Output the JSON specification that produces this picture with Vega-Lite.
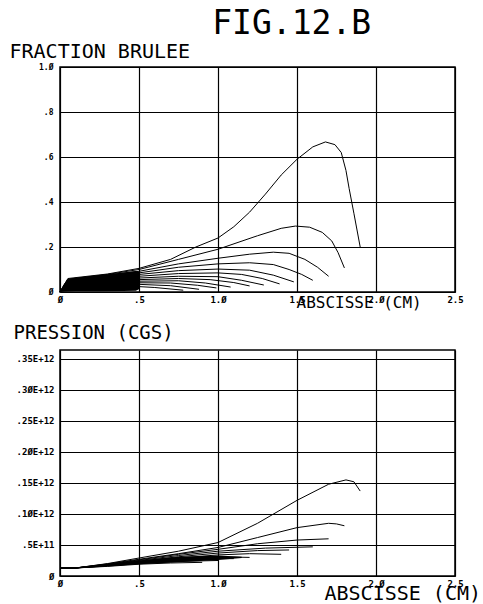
{
  "$schema": "https://vega.github.io/schema/vega-lite/v6.json",
  "background": "white",
  "padding": {"left": 8, "top": 8, "right": 0, "bottom": 0},
  "title": {"text": "FIG.12.B", "font": "DejaVu Sans Mono", "fontSize": 33, "fontWeight": "normal", "color": "black", "anchor": "start", "frame": "bounds", "dx": 204, "offset": -1},
  "spacing": 58,
  "bounds": "flush",
  "config": {
    "view": {"stroke": "black", "strokeWidth": 1.5},
    "axis": {"domain": false, "ticks": false, "grid": true, "gridColor": "black", "gridOpacity": 1, "gridWidth": 1.2, "labelFont": "DejaVu Sans Mono", "labelColor": "black", "labelFontWeight": "bold", "titleFont": "DejaVu Sans Mono", "titleFontWeight": "normal", "titleColor": "black", "labelFlush": false, "labelOverlap": false}
  },
  "datasets": {
    "fraction": [
      {"courbe": "C1", "x": 0, "y": 0}, {"courbe": "C1", "x": 0.05, "y": 0.06}, {"courbe": "C1", "x": 0.3, "y": 0.08}, {"courbe": "C1", "x": 0.5, "y": 0.105}, {"courbe": "C1", "x": 0.7, "y": 0.145}, {"courbe": "C1", "x": 0.86, "y": 0.2}, {"courbe": "C1", "x": 1.0, "y": 0.24}, {"courbe": "C1", "x": 1.1, "y": 0.29}, {"courbe": "C1", "x": 1.2, "y": 0.355}, {"courbe": "C1", "x": 1.3, "y": 0.435}, {"courbe": "C1", "x": 1.4, "y": 0.52}, {"courbe": "C1", "x": 1.5, "y": 0.59}, {"courbe": "C1", "x": 1.6, "y": 0.645}, {"courbe": "C1", "x": 1.68, "y": 0.667}, {"courbe": "C1", "x": 1.74, "y": 0.655}, {"courbe": "C1", "x": 1.78, "y": 0.62}, {"courbe": "C1", "x": 1.81, "y": 0.54}, {"courbe": "C1", "x": 1.83, "y": 0.46}, {"courbe": "C1", "x": 1.86, "y": 0.35}, {"courbe": "C1", "x": 1.9, "y": 0.2},
      {"courbe": "C2", "x": 0, "y": 0}, {"courbe": "C2", "x": 0.05, "y": 0.057}, {"courbe": "C2", "x": 0.3, "y": 0.078}, {"courbe": "C2", "x": 0.5, "y": 0.1}, {"courbe": "C2", "x": 0.75, "y": 0.145}, {"courbe": "C2", "x": 1.0, "y": 0.19}, {"courbe": "C2", "x": 1.25, "y": 0.25}, {"courbe": "C2", "x": 1.4, "y": 0.283}, {"courbe": "C2", "x": 1.49, "y": 0.293}, {"courbe": "C2", "x": 1.58, "y": 0.288}, {"courbe": "C2", "x": 1.66, "y": 0.265}, {"courbe": "C2", "x": 1.72, "y": 0.227}, {"courbe": "C2", "x": 1.76, "y": 0.175}, {"courbe": "C2", "x": 1.8, "y": 0.107},
      {"courbe": "C3", "x": 0, "y": 0}, {"courbe": "C3", "x": 0.05, "y": 0.055}, {"courbe": "C3", "x": 0.5, "y": 0.092}, {"courbe": "C3", "x": 0.75, "y": 0.125}, {"courbe": "C3", "x": 1.0, "y": 0.15}, {"courbe": "C3", "x": 1.2, "y": 0.168}, {"courbe": "C3", "x": 1.35, "y": 0.177}, {"courbe": "C3", "x": 1.45, "y": 0.172}, {"courbe": "C3", "x": 1.55, "y": 0.145}, {"courbe": "C3", "x": 1.63, "y": 0.11}, {"courbe": "C3", "x": 1.7, "y": 0.07},
      {"courbe": "C4", "x": 0, "y": 0}, {"courbe": "C4", "x": 0.05, "y": 0.053}, {"courbe": "C4", "x": 0.5, "y": 0.085}, {"courbe": "C4", "x": 0.75, "y": 0.11}, {"courbe": "C4", "x": 1.0, "y": 0.125}, {"courbe": "C4", "x": 1.2, "y": 0.13}, {"courbe": "C4", "x": 1.35, "y": 0.122}, {"courbe": "C4", "x": 1.45, "y": 0.1}, {"courbe": "C4", "x": 1.53, "y": 0.078}, {"courbe": "C4", "x": 1.6, "y": 0.052},
      {"courbe": "C5", "x": 0, "y": 0}, {"courbe": "C5", "x": 0.05, "y": 0.05}, {"courbe": "C5", "x": 0.5, "y": 0.078}, {"courbe": "C5", "x": 0.75, "y": 0.095}, {"courbe": "C5", "x": 1.0, "y": 0.102}, {"courbe": "C5", "x": 1.2, "y": 0.097}, {"courbe": "C5", "x": 1.35, "y": 0.075}, {"courbe": "C5", "x": 1.48, "y": 0.045},
      {"courbe": "C6", "x": 0, "y": 0}, {"courbe": "C6", "x": 0.05, "y": 0.048}, {"courbe": "C6", "x": 0.5, "y": 0.07}, {"courbe": "C6", "x": 0.75, "y": 0.082}, {"courbe": "C6", "x": 1.0, "y": 0.085}, {"courbe": "C6", "x": 1.15, "y": 0.078}, {"courbe": "C6", "x": 1.28, "y": 0.06}, {"courbe": "C6", "x": 1.39, "y": 0.036},
      {"courbe": "C7", "x": 0, "y": 0}, {"courbe": "C7", "x": 0.05, "y": 0.046}, {"courbe": "C7", "x": 0.5, "y": 0.062}, {"courbe": "C7", "x": 0.75, "y": 0.07}, {"courbe": "C7", "x": 1.0, "y": 0.068}, {"courbe": "C7", "x": 1.15, "y": 0.052}, {"courbe": "C7", "x": 1.29, "y": 0.031},
      {"courbe": "C8", "x": 0, "y": 0}, {"courbe": "C8", "x": 0.05, "y": 0.044}, {"courbe": "C8", "x": 0.5, "y": 0.055}, {"courbe": "C8", "x": 0.75, "y": 0.06}, {"courbe": "C8", "x": 0.95, "y": 0.055}, {"courbe": "C8", "x": 1.1, "y": 0.042}, {"courbe": "C8", "x": 1.2, "y": 0.027},
      {"courbe": "C9", "x": 0, "y": 0}, {"courbe": "C9", "x": 0.05, "y": 0.042}, {"courbe": "C9", "x": 0.5, "y": 0.048}, {"courbe": "C9", "x": 0.75, "y": 0.05}, {"courbe": "C9", "x": 0.92, "y": 0.04}, {"courbe": "C9", "x": 1.08, "y": 0.022},
      {"courbe": "C10", "x": 0, "y": 0}, {"courbe": "C10", "x": 0.05, "y": 0.04}, {"courbe": "C10", "x": 0.5, "y": 0.041}, {"courbe": "C10", "x": 0.7, "y": 0.04}, {"courbe": "C10", "x": 0.87, "y": 0.03}, {"courbe": "C10", "x": 0.99, "y": 0.018},
      {"courbe": "C11", "x": 0, "y": 0}, {"courbe": "C11", "x": 0.05, "y": 0.038}, {"courbe": "C11", "x": 0.5, "y": 0.034}, {"courbe": "C11", "x": 0.7, "y": 0.028}, {"courbe": "C11", "x": 0.88, "y": 0.012},
      {"courbe": "C12", "x": 0, "y": 0}, {"courbe": "C12", "x": 0.05, "y": 0.035}, {"courbe": "C12", "x": 0.45, "y": 0.026}, {"courbe": "C12", "x": 0.6, "y": 0.02}, {"courbe": "C12", "x": 0.78, "y": 0.008}
    ],
    "zone_fraction": [
      {"x": 0, "y": 0, "bas": 0}, {"x": 0.02, "y": 0.03, "bas": 0.001}, {"x": 0.05, "y": 0.058, "bas": 0.002}, {"x": 0.1, "y": 0.063, "bas": 0.003}, {"x": 0.25, "y": 0.075, "bas": 0.003}, {"x": 0.4, "y": 0.087, "bas": 0.004}, {"x": 0.48, "y": 0.093, "bas": 0.006}, {"x": 0.5, "y": 0.09, "bas": 0.012}
    ],
    "pression": [
      {"courbe": "P1", "x": 0, "y": 1.3e10}, {"courbe": "P1", "x": 0.1, "y": 1.3e10}, {"courbe": "P1", "x": 0.3, "y": 2.0e10}, {"courbe": "P1", "x": 0.5, "y": 2.9e10}, {"courbe": "P1", "x": 0.75, "y": 4.0e10}, {"courbe": "P1", "x": 1.0, "y": 5.4e10}, {"courbe": "P1", "x": 1.25, "y": 8.5e10}, {"courbe": "P1", "x": 1.5, "y": 1.22e11}, {"courbe": "P1", "x": 1.7, "y": 1.48e11}, {"courbe": "P1", "x": 1.81, "y": 1.55e11}, {"courbe": "P1", "x": 1.86, "y": 1.52e11}, {"courbe": "P1", "x": 1.9, "y": 1.37e11},
      {"courbe": "P2", "x": 0, "y": 1.3e10}, {"courbe": "P2", "x": 0.1, "y": 1.3e10}, {"courbe": "P2", "x": 0.3, "y": 1.95e10}, {"courbe": "P2", "x": 0.5, "y": 2.7e10}, {"courbe": "P2", "x": 0.75, "y": 3.6e10}, {"courbe": "P2", "x": 1.0, "y": 4.6e10}, {"courbe": "P2", "x": 1.25, "y": 6.2e10}, {"courbe": "P2", "x": 1.5, "y": 7.8e10}, {"courbe": "P2", "x": 1.7, "y": 8.5e10}, {"courbe": "P2", "x": 1.75, "y": 8.4e10}, {"courbe": "P2", "x": 1.8, "y": 8.1e10},
      {"courbe": "P3", "x": 0, "y": 1.3e10}, {"courbe": "P3", "x": 0.1, "y": 1.3e10}, {"courbe": "P3", "x": 0.3, "y": 1.9e10}, {"courbe": "P3", "x": 0.5, "y": 2.6e10}, {"courbe": "P3", "x": 0.75, "y": 3.5e10}, {"courbe": "P3", "x": 1.0, "y": 4.3e10}, {"courbe": "P3", "x": 1.25, "y": 5.2e10}, {"courbe": "P3", "x": 1.5, "y": 5.8e10}, {"courbe": "P3", "x": 1.7, "y": 6.0e10},
      {"courbe": "P4", "x": 0, "y": 1.3e10}, {"courbe": "P4", "x": 0.1, "y": 1.3e10}, {"courbe": "P4", "x": 0.3, "y": 1.85e10}, {"courbe": "P4", "x": 0.5, "y": 2.5e10}, {"courbe": "P4", "x": 0.75, "y": 3.3e10}, {"courbe": "P4", "x": 1.0, "y": 4.0e10}, {"courbe": "P4", "x": 1.3, "y": 4.5e10}, {"courbe": "P4", "x": 1.6, "y": 4.7e10},
      {"courbe": "P5", "x": 0, "y": 1.3e10}, {"courbe": "P5", "x": 0.1, "y": 1.3e10}, {"courbe": "P5", "x": 0.3, "y": 1.8e10}, {"courbe": "P5", "x": 0.5, "y": 2.4e10}, {"courbe": "P5", "x": 0.75, "y": 3.1e10}, {"courbe": "P5", "x": 1.0, "y": 3.7e10}, {"courbe": "P5", "x": 1.25, "y": 4.1e10}, {"courbe": "P5", "x": 1.45, "y": 4.2e10},
      {"courbe": "P6", "x": 0, "y": 1.3e10}, {"courbe": "P6", "x": 0.1, "y": 1.3e10}, {"courbe": "P6", "x": 0.3, "y": 1.75e10}, {"courbe": "P6", "x": 0.5, "y": 2.3e10}, {"courbe": "P6", "x": 0.75, "y": 2.9e10}, {"courbe": "P6", "x": 1.0, "y": 3.4e10}, {"courbe": "P6", "x": 1.2, "y": 3.6e10}, {"courbe": "P6", "x": 1.4, "y": 3.5e10},
      {"courbe": "P7", "x": 0, "y": 1.3e10}, {"courbe": "P7", "x": 0.1, "y": 1.3e10}, {"courbe": "P7", "x": 0.3, "y": 1.7e10}, {"courbe": "P7", "x": 0.5, "y": 2.2e10}, {"courbe": "P7", "x": 0.75, "y": 2.7e10}, {"courbe": "P7", "x": 1.0, "y": 3.1e10}, {"courbe": "P7", "x": 1.2, "y": 3.0e10},
      {"courbe": "P8", "x": 0, "y": 1.3e10}, {"courbe": "P8", "x": 0.1, "y": 1.3e10}, {"courbe": "P8", "x": 0.3, "y": 1.65e10}, {"courbe": "P8", "x": 0.5, "y": 2.1e10}, {"courbe": "P8", "x": 0.75, "y": 2.5e10}, {"courbe": "P8", "x": 0.95, "y": 2.8e10}, {"courbe": "P8", "x": 1.1, "y": 2.8e10},
      {"courbe": "P9", "x": 0, "y": 1.3e10}, {"courbe": "P9", "x": 0.1, "y": 1.3e10}, {"courbe": "P9", "x": 0.3, "y": 1.6e10}, {"courbe": "P9", "x": 0.5, "y": 2.0e10}, {"courbe": "P9", "x": 0.75, "y": 2.35e10}, {"courbe": "P9", "x": 1.0, "y": 2.5e10},
      {"courbe": "P10", "x": 0, "y": 1.3e10}, {"courbe": "P10", "x": 0.1, "y": 1.3e10}, {"courbe": "P10", "x": 0.3, "y": 1.55e10}, {"courbe": "P10", "x": 0.5, "y": 1.9e10}, {"courbe": "P10", "x": 0.7, "y": 2.1e10}, {"courbe": "P10", "x": 0.9, "y": 2.2e10}
    ],
    "zone_pression": [
      {"x": 0.15, "y": 1.4e10, "bas": 1.3e10}, {"x": 0.3, "y": 1.85e10, "bas": 1.6e10}, {"x": 0.5, "y": 2.5e10, "bas": 1.9e10}, {"x": 0.75, "y": 3.1e10, "bas": 2.2e10}, {"x": 1.0, "y": 3.3e10, "bas": 2.6e10}, {"x": 1.15, "y": 3.1e10, "bas": 2.9e10}
    ]
  },
  "vconcat": [
    {
      "width": 395,
      "height": 225,
      "encoding": {
        "x": {"field": "x", "type": "quantitative", "scale": {"domain": [0, 2.5], "nice": false, "zero": false},
          "axis": {"values": [0, 0.5, 1, 1.5, 2, 2.5], "labelExpr": "datum.value == 0 ? 'Ø' : datum.value == 0.5 ? '.5' : replace(format(datum.value, '.1f'), '0', 'Ø')", "labelFontSize": 9, "labelPadding": 3, "title": "ABSCISSE (CM)", "titleFontSize": 16, "titleAlign": "left", "titleBaseline": "alphabetic", "titleX": 236, "titleY": 15}},
        "y": {"field": "y", "type": "quantitative", "scale": {"domain": [0, 1], "nice": false},
          "axis": {"values": [0, 0.2, 0.4, 0.6, 0.8, 1], "labelExpr": "datum.value == 0 ? 'Ø' : datum.value == 1 ? '1.Ø' : replace(format(datum.value, '.1f'), '0.', '.')", "labelFontSize": 8, "labelPadding": 7, "title": "FRACTION BRULEE", "titleFontSize": 20, "titleAngle": 0, "titleAlign": "left", "titleBaseline": "alphabetic", "titleX": -51, "titleY": -10}}
      },
      "layer": [
        {"data": {"name": "fraction"}, "mark": {"type": "line", "color": "black", "strokeWidth": 1}, "encoding": {"detail": {"field": "courbe"}}},
        {"data": {"name": "zone_fraction"}, "mark": {"type": "area", "color": "black"}, "encoding": {"y2": {"field": "bas"}}}
      ]
    },
    {
      "width": 395,
      "height": 226,
      "encoding": {
        "x": {"field": "x", "type": "quantitative", "scale": {"domain": [0, 2.5], "nice": false, "zero": false},
          "axis": {"values": [0, 0.5, 1, 1.5, 2, 2.5], "labelExpr": "datum.value == 0 ? 'Ø' : datum.value == 0.5 ? '.5' : replace(format(datum.value, '.1f'), '0', 'Ø')", "labelFontSize": 9, "labelPadding": 3, "title": "ABSCISSE (CM)", "titleFontSize": 20, "titleAlign": "left", "titleBaseline": "alphabetic", "titleX": 264, "titleY": 23}},
        "y": {"field": "y", "type": "quantitative", "scale": {"domain": [0, 364500000000], "nice": false},
          "axis": {"values": [0, 50000000000, 100000000000, 150000000000, 200000000000, 250000000000, 300000000000, 350000000000], "labelExpr": "datum.value == 0 ? 'Ø' : datum.value == 50000000000 ? '.5E+11' : '.' + replace(format(datum.value / 10000000000, '02d'), '0', 'Ø') + 'E+12'", "labelFontSize": 9, "labelPadding": 6, "title": "PRESSION (CGS)", "titleFontSize": 19, "titleAngle": 0, "titleAlign": "left", "titleBaseline": "alphabetic", "titleX": -47, "titleY": -12}}
      },
      "layer": [
        {"data": {"name": "pression"}, "mark": {"type": "line", "color": "black", "strokeWidth": 1}, "encoding": {"detail": {"field": "courbe"}}},
        {"data": {"name": "zone_pression"}, "mark": {"type": "area", "color": "black"}, "encoding": {"y2": {"field": "bas"}}}
      ]
    }
  ]
}
